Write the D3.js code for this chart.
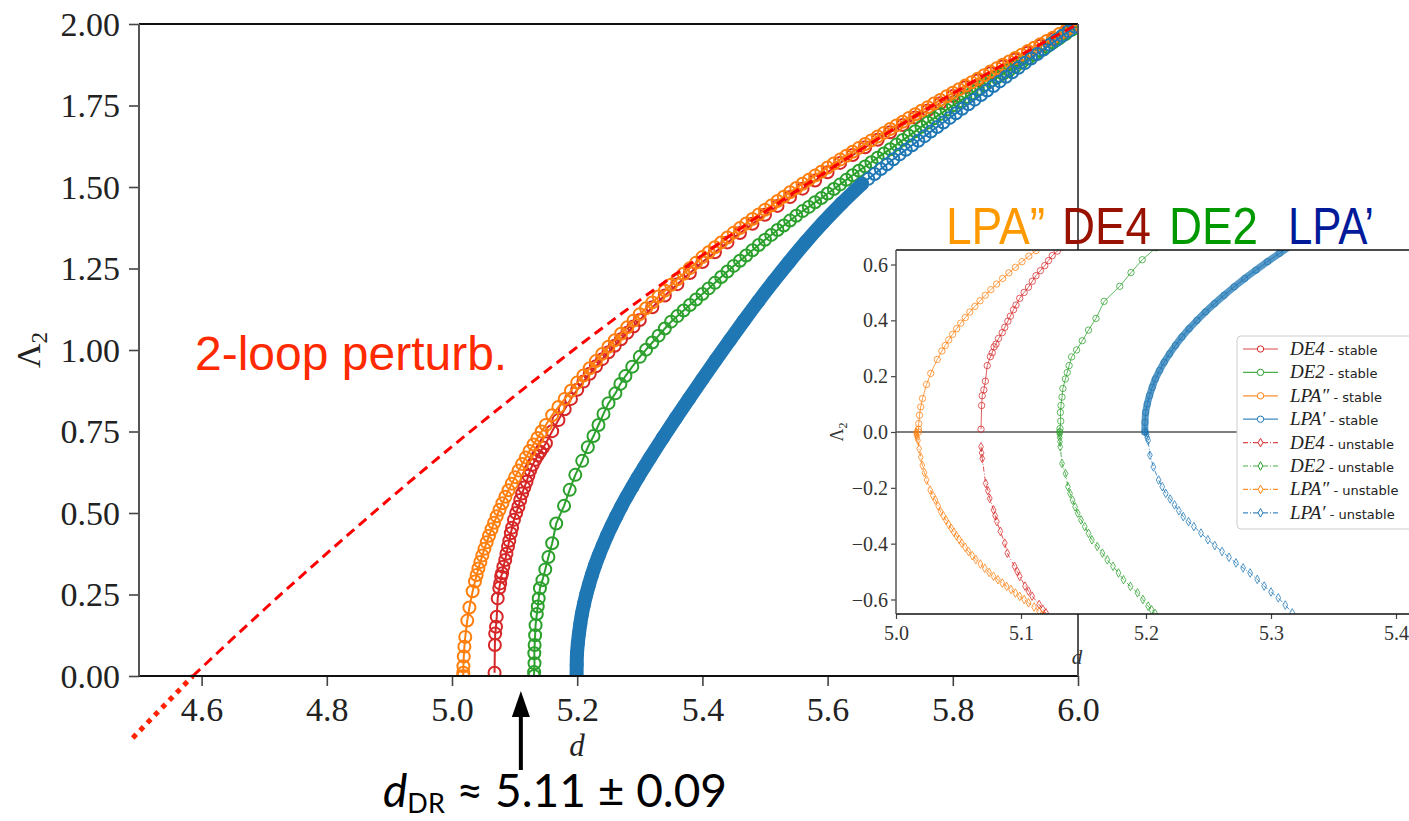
<!DOCTYPE html>
<html>
<head>
<meta charset="utf-8">
<script src="https://cdn.jsdelivr.net/npm/d3@7"></script>
<style>
  body { margin: 0; background: #fff; }
  svg { display: block; }
</style>
</head>
<body>
<svg id="fig" width="1409" height="821"></svg>
<script>
// ---- data: [d, Lambda_2] ----
const mainXTicks = [4.6, 4.8, 5.0, 5.2, 5.4, 5.6, 5.8, 6.0];
const mainYTicks = [0, 0.25, 0.5, 0.75, 1.0, 1.25, 1.5, 1.75, 2.0];
const insetXTicks = [5.0, 5.1, 5.2, 5.3, 5.4];
const insetYTicks = [-0.6, -0.4, -0.2, 0, 0.2, 0.4, 0.6];

const seriesNames = ['DE4', 'DE2', 'LPA\u2033', 'LPA\u2032'];
const insetTitles = ['LPA\u201D', 'DE4', 'DE2', 'LPA\u2019'];
const dDR = 5.11;

const twoLoopDashed = [[4.586,0],[4.7,0.204],[4.8,0.376],[4.9,0.543],[5.0,0.704],[5.1,0.859],[5.2,1.009],
  [5.3,1.153],[5.4,1.291],[5.5,1.424],[5.6,1.55],[5.7,1.671],[5.8,1.787],[5.9,1.896],[6.0,2.0]];
const twoLoopDotted = [[4.49,-0.19],[4.586,0]];

const de4Stable = [[5.068,0.01],[5.0685,0.095],[5.069,0.13],[5.0703,0.151],[5.0715,0.182],[5.073,0.238],[5.0755,0.27],
  [5.077,0.284],[5.0785,0.305],[5.08,0.315],[5.082,0.335],[5.085,0.356],[5.087,0.375],[5.0895,0.397],[5.0915,0.415],
  [5.094,0.438],[5.096,0.455],[5.099,0.479],[5.1025,0.5],[5.106,0.519],[5.109,0.54],[5.112,0.56],[5.1155,0.578],
  [5.119,0.596],[5.122,0.614],[5.125,0.632],[5.129,0.648],[5.133,0.663],[5.137,0.676],[5.141,0.688],[5.1455,0.701],
  [5.15,0.714],[5.16,0.751],[5.17,0.785],[5.18,0.818],[5.19,0.85],[5.2,0.878],[5.21,0.903],[5.22,0.927],[5.23,0.95],
  [5.24,0.972],[5.25,0.993],[5.26,1.013],[5.27,1.033],[5.28,1.053],[5.29,1.072],[5.3,1.092],[5.32,1.131],[5.34,1.167],
  [5.36,1.202],[5.38,1.236],[5.4,1.27],[5.42,1.3],[5.44,1.33],[5.46,1.359],[5.48,1.387],[5.5,1.415],[5.52,1.442],
  [5.54,1.469],[5.56,1.495],[5.58,1.52],[5.6,1.545],[5.62,1.574],[5.64,1.598],[5.66,1.622],[5.68,1.645],[5.7,1.668],
  [5.72,1.69],[5.74,1.713],[5.76,1.735],[5.78,1.757],[5.8,1.779],[5.82,1.806],[5.84,1.827],[5.86,1.849],[5.88,1.87],
  [5.9,1.891],[5.92,1.912],[5.94,1.933],[5.96,1.953],[5.98,1.974],[6.0,1.995]];

const de2Stable = [[5.131,0],[5.1312,0.012],[5.1318,0.039],[5.1315,0.07],[5.132,0.095],[5.1328,0.125],[5.1335,0.156],
  [5.1355,0.19],[5.137,0.213],[5.1385,0.238],[5.1405,0.269],[5.1445,0.294],[5.149,0.327],[5.154,0.365],[5.16,0.407],
  [5.1665,0.468],[5.179,0.522],[5.188,0.571],[5.197,0.617],[5.208,0.66],[5.217,0.702],[5.226,0.736],[5.234,0.77],
  [5.242,0.804],[5.25,0.837],[5.261,0.867],[5.269,0.896],[5.277,0.92],[5.288,0.949],[5.3,0.979],[5.31,1.001],
  [5.32,1.023],[5.33,1.044],[5.34,1.066],[5.35,1.087],[5.36,1.104],[5.37,1.121],[5.38,1.138],[5.39,1.155],[5.4,1.172],
  [5.41,1.189],[5.42,1.206],[5.43,1.224],[5.44,1.241],[5.45,1.258],[5.46,1.274],[5.47,1.29],[5.48,1.306],[5.49,1.322],
  [5.5,1.338],[5.51,1.353],[5.52,1.368],[5.53,1.382],[5.54,1.397],[5.55,1.412],[5.56,1.426],[5.57,1.439],[5.58,1.453],
  [5.59,1.466],[5.6,1.48],[5.61,1.494],[5.62,1.508],[5.63,1.522],[5.64,1.536],[5.65,1.55],[5.66,1.563],[5.67,1.576],
  [5.68,1.59],[5.69,1.603],[5.7,1.616],[5.71,1.63],[5.72,1.644],[5.73,1.657],[5.74,1.671],[5.75,1.685],[5.76,1.698],
  [5.77,1.711],[5.78,1.724],[5.79,1.737],[5.8,1.75],[5.81,1.762],[5.82,1.775],[5.83,1.787],[5.84,1.8],[5.85,1.812],
  [5.86,1.824],[5.87,1.835],[5.88,1.847],[5.89,1.858],[5.9,1.87],[5.91,1.882],[5.92,1.894],[5.93,1.906],[5.94,1.918],
  [5.95,1.93],[5.96,1.943],[5.97,1.956],[5.98,1.969],[5.99,1.982],[6.0,1.995]];

const lpa2Stable = [[5.018,0],[5.018,0.01],[5.0182,0.03],[5.0188,0.06],[5.0198,0.09],[5.0212,0.12],[5.0244,0.17],
  [5.0278,0.21],[5.033,0.26],[5.0367,0.29],[5.0394,0.31],[5.0422,0.33],[5.0453,0.35],[5.0485,0.37],[5.0518,0.39],
  [5.0554,0.41],[5.0591,0.43],[5.0631,0.45],[5.0672,0.47],[5.0714,0.49],[5.0759,0.51],[5.0805,0.53],[5.0853,0.55],
  [5.0903,0.57],[5.0955,0.59],[5.1008,0.61],[5.1063,0.63],[5.112,0.65],[5.1179,0.67],[5.1239,0.69],[5.1302,0.71],
  [5.1366,0.73],[5.1432,0.75],[5.1499,0.77],[5.16,0.8],[5.17,0.825],[5.18,0.85],[5.19,0.875],[5.2,0.9],[5.21,0.922],
  [5.22,0.944],[5.23,0.966],[5.24,0.988],[5.25,1.01],[5.26,1.03],[5.27,1.05],[5.28,1.07],[5.29,1.09],[5.3,1.11],
  [5.31,1.128],[5.32,1.146],[5.33,1.164],[5.34,1.182],[5.35,1.2],[5.36,1.217],[5.37,1.234],[5.38,1.251],[5.39,1.268],
  [5.4,1.285],[5.41,1.3],[5.42,1.315],[5.43,1.33],[5.44,1.345],[5.45,1.36],[5.46,1.374],[5.47,1.388],[5.48,1.402],
  [5.49,1.416],[5.5,1.43],[5.51,1.443],[5.52,1.457],[5.53,1.47],[5.54,1.484],[5.55,1.497],[5.56,1.51],[5.57,1.522],
  [5.58,1.535],[5.59,1.547],[5.6,1.56],[5.61,1.572],[5.62,1.584],[5.63,1.596],[5.64,1.608],[5.65,1.62],[5.66,1.632],
  [5.67,1.643],[5.68,1.655],[5.69,1.666],[5.7,1.678],[5.71,1.689],[5.72,1.7],[5.73,1.712],[5.74,1.723],[5.75,1.734],
  [5.76,1.745],[5.77,1.756],[5.78,1.767],[5.79,1.778],[5.8,1.789],[5.81,1.8],[5.82,1.811],[5.83,1.821],[5.84,1.832],
  [5.85,1.843],[5.86,1.854],[5.87,1.864],[5.88,1.875],[5.89,1.885],[5.9,1.896],[5.91,1.906],[5.92,1.917],[5.93,1.927],
  [5.94,1.938],[5.95,1.948],[5.96,1.958],[5.97,1.969],[5.98,1.979],[5.99,1.99],[6.0,2.0]];

// LPA' : densely sampled below Lambda_2 = 1.51 (draws as a solid band), sparse above
const lpa1Stable = [[5.199,0],[5.1992,0.035],[5.1997,0.07],[5.201,0.1],[5.2028,0.13],[5.205,0.16],[5.2075,0.19],
  [5.2108,0.22],[5.2145,0.25],[5.2188,0.28],[5.2235,0.31],[5.2287,0.34],[5.2345,0.37],[5.2408,0.4],[5.2475,0.43],
  [5.2548,0.46],[5.2625,0.49],[5.2705,0.52],[5.279,0.55],[5.288,0.58],[5.2972,0.61],[5.3068,0.64],[5.3166,0.67],
  [5.3366,0.73],[5.3573,0.79],[5.3784,0.85],[5.3998,0.91],[5.4216,0.97],[5.4438,1.03],[5.4664,1.09],[5.4895,1.15],
  [5.5135,1.21],[5.5385,1.27],[5.5646,1.33],[5.5925,1.39],[5.6225,1.45],[5.655,1.51],[5.665,1.525],[5.675,1.54],
  [5.685,1.555],[5.695,1.57],[5.705,1.585],[5.715,1.6],[5.725,1.614],[5.735,1.628],[5.745,1.642],[5.755,1.656],
  [5.765,1.67],[5.775,1.684],[5.785,1.698],[5.795,1.712],[5.805,1.726],[5.815,1.74],[5.825,1.754],[5.835,1.768],
  [5.845,1.782],[5.855,1.796],[5.865,1.81],[5.875,1.824],[5.885,1.838],[5.895,1.852],[5.905,1.866],[5.915,1.88],
  [5.925,1.894],[5.935,1.908],[5.945,1.922],[5.955,1.936],[5.965,1.95],[5.975,1.964],[5.985,1.978],[5.995,1.992]];
const lpa1DenseTop = 1.51;

const de4Unstable = [[5.068,-0.053],[5.0685,-0.075],[5.069,-0.095],[5.0717,-0.184],[5.0735,-0.21],[5.075,-0.238],
  [5.078,-0.279],[5.0793,-0.3],[5.0807,-0.321],[5.0835,-0.356],[5.087,-0.398],[5.089,-0.434],[5.0948,-0.481],
  [5.097,-0.5],[5.099,-0.517],[5.1032,-0.552],[5.106,-0.57],[5.1089,-0.588],[5.1145,-0.618],[5.1175,-0.635],[5.12,-0.648]];
const de2Unstable = [[5.1308,0],[5.1309,-0.01],[5.131,-0.02],[5.1312,-0.035],[5.1314,-0.053],[5.1328,-0.113],
  [5.1356,-0.149],[5.1375,-0.196],[5.1392,-0.22],[5.1412,-0.244],[5.1433,-0.268],[5.1454,-0.291],[5.148,-0.315],
  [5.151,-0.339],[5.154,-0.363],[5.1567,-0.386],[5.161,-0.41],[5.1651,-0.434],[5.169,-0.458],[5.1736,-0.481],
  [5.178,-0.505],[5.182,-0.529],[5.1875,-0.553],[5.1932,-0.576],[5.1975,-0.6],[5.2017,-0.624],[5.2045,-0.637],[5.2073,-0.65]];
const lpa2Unstable = [[5.016,0],[5.0162,-0.006],[5.0165,-0.012],[5.017,-0.02],[5.0176,-0.03],[5.0185,-0.06],
  [5.0198,-0.09],[5.021,-0.119],[5.0228,-0.146],[5.0245,-0.172],[5.0273,-0.208],[5.0295,-0.228],[5.0315,-0.244],
  [5.0337,-0.265],[5.0357,-0.285],[5.0378,-0.3],[5.04,-0.316],[5.0421,-0.331],[5.0442,-0.345],[5.0463,-0.359],
  [5.0484,-0.372],[5.0505,-0.385],[5.0526,-0.398],[5.0553,-0.413],[5.058,-0.428],[5.061,-0.443],[5.0639,-0.457],
  [5.0675,-0.473],[5.071,-0.488],[5.0745,-0.503],[5.078,-0.517],[5.0815,-0.529],[5.085,-0.541],[5.0885,-0.553],
  [5.092,-0.564],[5.0955,-0.577],[5.099,-0.589],[5.1025,-0.6],[5.106,-0.612],[5.1105,-0.627],[5.1145,-0.642],[5.118,-0.655]];
const lpa1Unstable = [[5.2003,0],[5.2005,-0.01],[5.201,-0.02],[5.2017,-0.03],[5.2031,-0.083],[5.2059,-0.125],
  [5.2101,-0.172],[5.213,-0.196],[5.2158,-0.22],[5.2193,-0.24],[5.2228,-0.261],[5.2263,-0.282],[5.2298,-0.303],
  [5.234,-0.321],[5.2383,-0.339],[5.244,-0.362],[5.2495,-0.386],[5.255,-0.407],[5.2608,-0.428],[5.2664,-0.449],
  [5.272,-0.469],[5.2777,-0.487],[5.2833,-0.505],[5.289,-0.528],[5.2945,-0.552],[5.3,-0.573],[5.3058,-0.594],
  [5.3114,-0.62],[5.317,-0.648]];

// ---- drawing ----
var svg = d3.select('#fig');
var serif = "'Liberation Serif', 'DejaVu Serif', serif";
var sans = "'Liberation Sans', Arial, sans-serif";

var cRed = '#d62728', cGreen = '#2ca02c', cOrange = '#ff7f0e', cBlue = '#1f77b4';
var stable = [
  {name: seriesNames[0], data: de4Stable, color: cRed},
  {name: seriesNames[1], data: de2Stable, color: cGreen},
  {name: seriesNames[2], data: lpa2Stable, color: cOrange},
  {name: seriesNames[3], data: lpa1Stable, color: cBlue}
];
var unstable = [
  {name: seriesNames[0], data: de4Unstable, color: cRed},
  {name: seriesNames[1], data: de2Unstable, color: cGreen},
  {name: seriesNames[2], data: lpa2Unstable, color: cOrange},
  {name: seriesNames[3], data: lpa1Unstable, color: cBlue}
];

var x = d3.scaleLinear().domain([4.5, 6.0]).range([139, 1078]);
var y = d3.scaleLinear().domain([0, 2.0]).range([676, 24]);

var defs = svg.append('defs');
defs.append('clipPath').attr('id', 'mainclip').append('rect')
  .attr('x', x(4.5)).attr('y', y(2)).attr('width', x(6) - x(4.5)).attr('height', y(0) - y(2));

function lineOf(xs, ys) {
  return d3.line().x(function(d) { return xs(d[0]); }).y(function(d) { return ys(d[1]); });
}

function drawStable(g, s, xs, ys, r, sw, lw, band, op) {
  if (s.data === lpa1Stable) {
    var dense = s.data.filter(function(d) { return d[1] <= lpa1DenseTop; });
    g.append('path').datum(dense)
      .attr('d', lineOf(xs, ys).curve(d3.curveMonotoneY))
      .style('fill', 'none').style('stroke', s.color).style('stroke-width', band)
      .style('stroke-linecap', 'round').style('stroke-linejoin', 'round').style('opacity', op);
  }
  g.append('path').datum(s.data)
    .attr('d', lineOf(xs, ys))
    .style('fill', 'none').style('stroke', s.color).style('stroke-width', lw).style('opacity', op);
  g.selectAll(null).data(s.data).enter().append('circle')
    .attr('cx', function(d) { return xs(d[0]); })
    .attr('cy', function(d) { return ys(d[1]); })
    .attr('r', r)
    .style('fill', 'none').style('stroke', s.color).style('stroke-width', sw).style('opacity', op);
}

// main curves
var gm = svg.append('g').attr('clip-path', 'url(#mainclip)');
stable.forEach(function(s) { drawStable(gm, s, x, y, 6, 2, 2, 14, 1); });

// 2-loop perturbative line
svg.append('path').datum(twoLoopDashed)
  .attr('d', lineOf(x, y).curve(d3.curveMonotoneX))
  .style('fill', 'none').style('stroke', '#ff0000').style('stroke-width', 3)
  .style('stroke-dasharray', '10,6');
svg.append('path').datum(twoLoopDotted)
  .attr('d', lineOf(x, y))
  .style('fill', 'none').style('stroke', '#ff2200').style('stroke-width', 5)
  .style('stroke-dasharray', '5,5.5');

// main axes
var gxa = svg.append('g').attr('transform', 'translate(0,' + y(0) + ')')
  .call(d3.axisBottom(x).tickValues(mainXTicks).tickFormat(d3.format('.1f')).tickSize(10).tickPadding(11));
var gya = svg.append('g').attr('transform', 'translate(' + x(4.5) + ',0)')
  .call(d3.axisLeft(y).tickValues(mainYTicks).tickFormat(d3.format('.2f')).tickSize(10).tickPadding(9));
[gxa, gya].forEach(function(g) {
  g.select('.domain').remove();
  g.selectAll('line').style('stroke', '#444').style('stroke-width', 1.6);
  g.selectAll('text').style('font-family', serif).style('font-size', '34px').style('fill', '#222');
});
gya.selectAll('text').attr('dy', '0.33em');

function spine(x1, y1, x2, y2, col, w) {
  svg.append('line').attr('x1', x1).attr('y1', y1).attr('x2', x2).attr('y2', y2)
    .style('stroke', col).style('stroke-width', w);
}
spine(x(4.5), y(2), x(6), y(2), '#111', 2);
spine(x(4.5), y(0), x(6), y(0), '#111', 2);
spine(x(4.5), y(2), x(4.5), y(0), '#555', 2);
spine(x(6), y(2), x(6), y(0), '#555', 2);

svg.append('text').attr('x', 577).attr('y', 756)
  .style('font-family', serif).style('font-style', 'italic').style('font-size', '31px').style('fill', '#222')
  .attr('text-anchor', 'middle').text('d');
var yl = svg.append('text').attr('transform', 'translate(40,350) rotate(-90)')
  .attr('text-anchor', 'middle').style('font-family', serif).style('fill', '#222');
yl.append('tspan').style('font-size', '34px').text('\u039B');
yl.append('tspan').style('font-size', '23px').attr('dy', 7).text('2');

svg.append('text').attr('x', 195).attr('y', 370)
  .style('font-family', sans).style('font-size', '48px').style('fill', '#ff2a00')
  .text('2-loop perturb.');

// arrow to d_DR
var ax = x(dDR);
svg.append('line').attr('x1', ax).attr('y1', 770).attr('x2', ax).attr('y2', 712)
  .style('stroke', '#000').style('stroke-width', 4);
svg.append('path').attr('d', 'M' + ax + ',691 L' + (ax - 9) + ',717 L' + (ax + 9) + ',717 Z').style('fill', '#000');
var ann = svg.append('text').attr('x', 383).attr('y', 807)
  .style('font-family', "Lato, 'Open Sans', sans-serif").style('font-size', '46px').style('fill', '#000');
ann.append('tspan').style('font-style', 'italic').text('d');
ann.append('tspan').style('font-size', '27px').attr('dy', 6).text('DR');
ann.append('tspan').attr('dy', -6).text(' \u2248 5.11 \u00B1 0.09');

// ---- inset ----
var ix = d3.scaleLinear().domain([5.0, 5.42]).range([896, 1421]);
var iy = d3.scaleLinear().domain([-0.652, 0.652]).range([614, 250]);
defs.append('clipPath').attr('id', 'insetclip').append('rect')
  .attr('x', ix(5.0)).attr('y', iy(0.652)).attr('width', ix(5.42) - ix(5.0)).attr('height', iy(-0.652) - iy(0.652));

svg.append('rect').attr('x', ix(5.0)).attr('y', iy(0.652))
  .attr('width', ix(5.42) - ix(5.0)).attr('height', iy(-0.652) - iy(0.652)).style('fill', '#fff');

var gi = svg.append('g').attr('clip-path', 'url(#insetclip)');
gi.append('line').attr('x1', ix(5.0)).attr('x2', ix(5.42)).attr('y1', iy(0)).attr('y2', iy(0))
  .style('stroke', '#000').style('stroke-width', 1.2);

var diamond = 'M0,-4.3L2.4,0L0,4.3L-2.4,0Z';
stable.forEach(function(s) { drawStable(gi, s, ix, iy, 3.2, 1, 1, 7, 0.75); });
unstable.forEach(function(s) {
  gi.append('path').datum(s.data)
    .attr('d', lineOf(ix, iy))
    .style('fill', 'none').style('stroke', s.color).style('stroke-width', 1)
    .style('stroke-dasharray', '5,2,1,2').style('opacity', 0.8);
  gi.selectAll(null).data(s.data).enter().append('path')
    .attr('d', diamond)
    .attr('transform', function(d) { return 'translate(' + ix(d[0]) + ',' + iy(d[1]) + ')'; })
    .style('fill', 'none').style('stroke', s.color).style('stroke-width', 1).style('opacity', 0.75);
});

var gix = svg.append('g').attr('transform', 'translate(0,' + iy(-0.652) + ')')
  .call(d3.axisBottom(ix).tickValues(insetXTicks).tickFormat(d3.format('.1f')).tickSize(5).tickPadding(7));
var giy = svg.append('g').attr('transform', 'translate(' + ix(5.0) + ',0)')
  .call(d3.axisLeft(iy).tickValues(insetYTicks).tickFormat(d3.format('.1f')).tickSize(5).tickPadding(3));
[gix, giy].forEach(function(g) {
  g.select('.domain').remove();
  g.selectAll('line').style('stroke', '#444').style('stroke-width', 1.2);
  g.selectAll('text').style('font-family', serif).style('font-size', '20px').style('fill', '#333');
});
giy.selectAll('text').attr('dy', '0.33em');
spine(ix(5.0), iy(0.652), ix(5.42), iy(0.652), '#111', 1.5);
spine(ix(5.0), iy(-0.652), ix(5.42), iy(-0.652), '#111', 1.5);
spine(ix(5.0), iy(0.652), ix(5.0), iy(-0.652), '#555', 1.5);

svg.append('text').attr('x', 1077).attr('y', 664).attr('text-anchor', 'middle')
  .style('font-family', serif).style('font-style', 'italic').style('font-size', '21px').style('fill', '#333').text('d');
var iyl = svg.append('text').attr('transform', 'translate(843,432) rotate(-90)')
  .attr('text-anchor', 'middle').style('font-family', serif).style('fill', '#333');
iyl.append('tspan').style('font-size', '18px').text('\u039B');
iyl.append('tspan').style('font-size', '12px').attr('dy', 4).text('2');

// legend
var lg = svg.append('g');
lg.append('rect').attr('x', 1237).attr('y', 336).attr('width', 185).attr('height', 193).attr('rx', 4)
  .style('fill', '#fff').style('stroke', '#ccc').style('stroke-width', 1);
var rows = stable.map(function(s) { return {s: s, kind: 'stable'}; })
  .concat(unstable.map(function(s) { return {s: s, kind: 'unstable'}; }));
rows.forEach(function(r, i) {
  var ry = 349 + i * 23.4;
  var l = lg.append('line').attr('x1', 1243).attr('x2', 1278).attr('y1', ry).attr('y2', ry)
    .style('stroke', r.s.color).style('stroke-width', 1.2).style('opacity', 0.85);
  if (r.kind === 'stable') {
    lg.append('circle').attr('cx', 1260.5).attr('cy', ry).attr('r', 3.2)
      .style('fill', '#fff').style('stroke', r.s.color).style('stroke-width', 1);
  } else {
    l.style('stroke-dasharray', '5,2,1,2');
    lg.append('path').attr('d', diamond).attr('transform', 'translate(1260.5,' + ry + ')')
      .style('fill', '#fff').style('stroke', r.s.color).style('stroke-width', 1);
  }
  var t = lg.append('text').attr('x', 1290).attr('y', ry + 6);
  t.append('tspan').style('font-family', serif).style('font-style', 'italic').style('font-size', '19px')
    .style('fill', '#222').text(r.s.name);
  t.append('tspan').style('font-family', "'DejaVu Sans', sans-serif").style('font-size', '13px')
    .style('fill', '#222').text(' - ' + r.kind);
});

// coloured titles above the inset
var titleColors = ['#ff9900', '#991100', '#009900', '#001a99'];
var titleX = [946, 1062, 1169, 1288];
var titleW = [99, 89, 89, 86];
insetTitles.forEach(function(t, i) {
  svg.append('text').attr('x', titleX[i]).attr('y', 244)
    .attr('textLength', titleW[i]).attr('lengthAdjust', 'spacingAndGlyphs')
    .style('font-family', sans).style('font-size', '52px').style('fill', titleColors[i]).text(t);
});
</script>
</body>
</html>
